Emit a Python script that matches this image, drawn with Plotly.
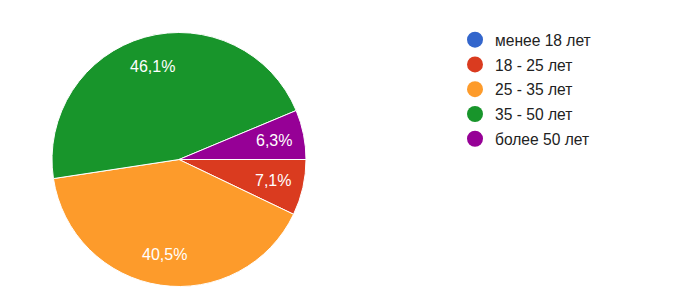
import math
import plotly.graph_objects as go

categories = ["менее 18 лет", "18 - 25 лет", "25 - 35 лет", "35 - 50 лет", "более 50 лет"]
values = [0, 7.1, 40.5, 46.1, 6.3]
slice_colors = ["#3366cc", "#da3b1f", "#fd9b2b", "#18952b", "#960096"]

W, H = 700, 299
cx, cy, r = 179, 159.5, 127
label_frac = 0.76
font_family = "Arial, Liberation Sans"

fig = go.Figure()
fig.add_trace(go.Pie(
    labels=categories, values=values, sort=False, direction="clockwise", rotation=90,
    marker=dict(colors=slice_colors, line=dict(color="white", width=1)),
    textinfo="none", showlegend=False, hoverinfo="skip",
    domain=dict(x=[(cx - r) / W, (cx + r) / W], y=[(H - cy - r) / H, (H - cy + r) / H]),
))

# percentage labels placed along each slice's mid-angle
total = sum(values)
cum = 0.0
for v in values:
    if v > 0:
        mid = (cum + v / 2) / total
        theta = -2 * math.pi * mid  # clockwise from 3 o'clock
        px = cx + label_frac * r * math.cos(theta)
        py = cy - label_frac * r * math.sin(theta)
        pct = f"{100 * v / total:.1f}".replace(".", ",") + "%"
        fig.add_annotation(x=px / W, y=1 - py / H, xref="paper", yref="paper",
                           text=pct, showarrow=False, xanchor="center", yanchor="middle",
                           font=dict(family=font_family, size=16, color="white"))
    cum += v

for i, (name, c) in enumerate(zip(categories, slice_colors)):
    fig.add_trace(go.Scatter(
        x=[None], y=[None], mode="markers", name=name, legendgroup=str(i),
        marker=dict(symbol="circle", size=17, color=c),
    ))

fig.update_layout(
    width=W, height=H, margin=dict(l=0, r=0, t=0, b=0),
    paper_bgcolor="white", plot_bgcolor="white",
    xaxis=dict(visible=False), yaxis=dict(visible=False),
    legend=dict(x=455 / W, y=1 - 23 / H, xanchor="left", yanchor="top",
                font=dict(family=font_family, size=15.6, color="#222222"),
                tracegroupgap=1.5, itemsizing="trace"),
)
fig.write_html("out.html")
